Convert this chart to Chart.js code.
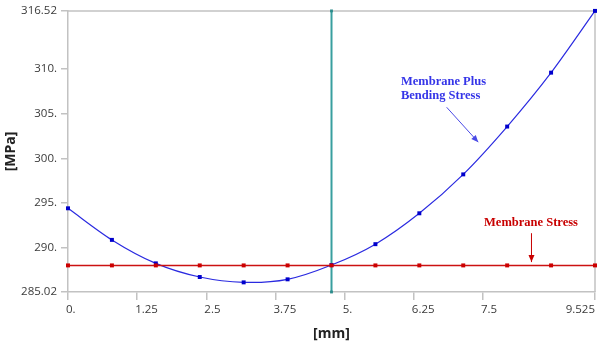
<!DOCTYPE html>
<html>
<head>
<meta charset="utf-8">
<script src="https://cdn.jsdelivr.net/npm/chart.js@4/dist/chart.umd.min.js"></script>
<style>
  html, body { margin: 0; padding: 0; background: #ffffff; }
  #wrap { position: relative; width: 602px; height: 347px; }
</style>
</head>
<body>
<div id="wrap"><canvas id="c"></canvas></div>
<script>
// ---- data ----
const xPositions = [0, 0.79375, 1.5875, 2.38125, 3.175, 3.96875, 4.7625, 5.55625, 6.35, 7.14375, 7.9375, 8.73125, 9.525];
const bendingStress = [294.40, 290.86, 288.23, 286.70, 286.10, 286.44, 288.04, 290.38, 293.84, 298.20, 303.56, 309.60, 316.52];
const membraneStress = [288.0, 288.0, 288.0, 288.0, 288.0, 288.0, 288.0, 288.0, 288.0, 288.0, 288.0, 288.0, 288.0];
const markerX = 4.7625;
const yMin = 285.02, yMax = 316.52;
const xMin = 0, xMax = 9.525;
const xTickValues = [0, 1.25, 2.5, 3.75, 5, 6.25, 7.5, 9.525];
const xTickLabels = ['0.', '1.25', '2.5', '3.75', '5.', '6.25', '7.5', '9.525'];
const yTickValues = [285.02, 290, 295, 300, 305, 310, 316.52];
const yTickLabels = ['285.02', '290.', '295.', '300.', '305.', '310.', '316.52'];

const bendingPts = xPositions.map((x, i) => ({ x: x, y: bendingStress[i] }));
const membranePts = xPositions.map((x, i) => ({ x: x, y: membraneStress[i] }));
const markerPts = [{ x: markerX, y: yMin }, { x: markerX, y: yMax }];

const TICK_FONT = '11.5px "Open Sans"';
const TICK_COLOR = '#3a3a3a';
const AXIS_COLOR = '#c2c2c2';

const decorPlugin = {
  id: 'decor',
  beforeDatasetsDraw(chart) {
    const { ctx, chartArea: a } = chart;
    ctx.save();
    ctx.strokeStyle = AXIS_COLOR;
    ctx.lineWidth = 1.5;
    ctx.beginPath();
    ctx.moveTo(a.left, a.top);
    ctx.lineTo(a.right, a.top);
    ctx.lineTo(a.right, a.bottom);
    ctx.stroke();
    ctx.restore();
  },
  afterDraw(chart) {
    const { ctx } = chart;
    const xs = chart.scales.x, ys = chart.scales.y;
    ctx.save();
    // x tick labels (left aligned at tick, last one right aligned)
    ctx.font = TICK_FONT;
    ctx.fillStyle = TICK_COLOR;
    ctx.textBaseline = 'middle';
    const ty = chart.chartArea.bottom + 18;
    xTickValues.forEach((v, i) => {
      const px = xs.getPixelForValue(v);
      if (i === xTickValues.length - 1) {
        ctx.textAlign = 'right';
        ctx.fillText(xTickLabels[i], px, ty);
      } else {
        ctx.textAlign = 'left';
        ctx.fillText(xTickLabels[i], px - 2, ty);
      }
    });

    // annotation helpers
    function arrow(x1, y1, x2, y2, color) {
      ctx.strokeStyle = color;
      ctx.fillStyle = color;
      ctx.lineWidth = 1;
      ctx.beginPath();
      ctx.moveTo(x1, y1);
      ctx.lineTo(x2, y2);
      ctx.stroke();
      const ang = Math.atan2(y2 - y1, x2 - x1);
      const L = 7, W = 3;
      ctx.beginPath();
      ctx.moveTo(x2, y2);
      ctx.lineTo(x2 - L * Math.cos(ang) + W * Math.sin(ang), y2 - L * Math.sin(ang) - W * Math.cos(ang));
      ctx.lineTo(x2 - L * Math.cos(ang) - W * Math.sin(ang), y2 - L * Math.sin(ang) + W * Math.cos(ang));
      ctx.closePath();
      ctx.fill();
    }
    const X = v => xs.getPixelForValue(v);
    const Y = v => ys.getPixelForValue(v);

    // Blue annotation
    ctx.font = 'bold 12.5px "Liberation Serif"';
    ctx.fillStyle = '#3535e8';
    ctx.textAlign = 'left';
    ctx.textBaseline = 'middle';
    ctx.fillText('Membrane Plus', X(6.018), Y(308.62));
    ctx.fillText('Bending Stress', X(6.018), Y(307.03));
    arrow(X(6.844), Y(305.72), X(7.415), Y(301.81), '#4a4ae6');

    // Red annotation
    ctx.fillStyle = '#c80000';
    ctx.textAlign = 'center';
    ctx.fillText('Membrane Stress', X(8.368), Y(292.76));
    arrow(X(8.377), Y(291.61), X(8.377), Y(288.37), '#c80000');
    ctx.restore();
  }
};

new Chart(document.getElementById('c'), {
  type: 'line',
  data: {
    datasets: [
      {
        label: 'Membrane Stress',
        data: membranePts,
        borderColor: '#cc1111',
        backgroundColor: '#cc0000',
        borderWidth: 1.5,
        pointStyle: 'rect',
        pointRadius: 2.8,
        pointBorderWidth: 0,
        tension: 0,
        clip: false
      },
      {
        label: 'Membrane Plus Bending Stress',
        data: bendingPts,
        borderColor: '#2a2ae0',
        backgroundColor: '#0000cc',
        borderWidth: 1.2,
        pointStyle: 'rect',
        pointRadius: 2.8,
        pointBorderWidth: 0,
        tension: 0.3,
        clip: false
      },
      {
        label: 'Marker',
        data: markerPts,
        borderColor: '#389f9f',
        backgroundColor: '#2c8c8c',
        borderWidth: 2,
        pointStyle: 'rect',
        pointRadius: 2,
        pointBorderWidth: 0,
        clip: false
      }
    ]
  },
  options: {
    responsive: true,
    maintainAspectRatio: false,
    animation: false,
    layout: { padding: { top: 10, right: 7, left: 0, bottom: 0 } },
    plugins: { legend: { display: false }, tooltip: { enabled: false } },
    scales: {
      x: {
        type: 'linear',
        min: xMin,
        max: xMax,
        afterBuildTicks: s => { s.ticks = xTickValues.map(v => ({ value: v })); },
        afterFit: s => { s.height = 55; s.paddingLeft = 0; s.paddingRight = 0; },
        grid: { drawOnChartArea: false, drawTicks: true, tickLength: 8, color: AXIS_COLOR, lineWidth: 1.5 },
        border: { display: true, color: AXIS_COLOR, width: 1.5 },
        ticks: { color: 'rgba(0,0,0,0)', font: { family: 'Open Sans', size: 11.5 }, maxRotation: 0, autoSkip: false, padding: 4, callback: () => ' ' },
        title: { display: true, text: '[mm]', color: '#222', font: { family: 'Open Sans', size: 14, weight: 'bold' }, padding: { top: 4, bottom: 5 } }
      },
      y: {
        type: 'linear',
        min: yMin,
        max: yMax,
        afterBuildTicks: s => { s.ticks = yTickValues.map(v => ({ value: v })); },
        afterFit: s => { s.width = 68; },
        grid: { drawOnChartArea: false, drawTicks: true, tickLength: 7, color: AXIS_COLOR, lineWidth: 1.5 },
        border: { display: true, color: AXIS_COLOR, width: 1.5 },
        ticks: {
          color: TICK_COLOR,
          font: { family: 'Open Sans', size: 11.5 },
          padding: 4,
          autoSkip: false,
          callback: (v) => { const i = yTickValues.indexOf(v); return i >= 0 ? yTickLabels[i] : ''; }
        },
        title: { display: true, text: '[MPa]', color: '#222', font: { family: 'Open Sans', size: 14, weight: 'bold' }, padding: { top: 3, bottom: 0 } }
      }
    }
  },
  plugins: [decorPlugin]
});
</script>
</body>
</html>
